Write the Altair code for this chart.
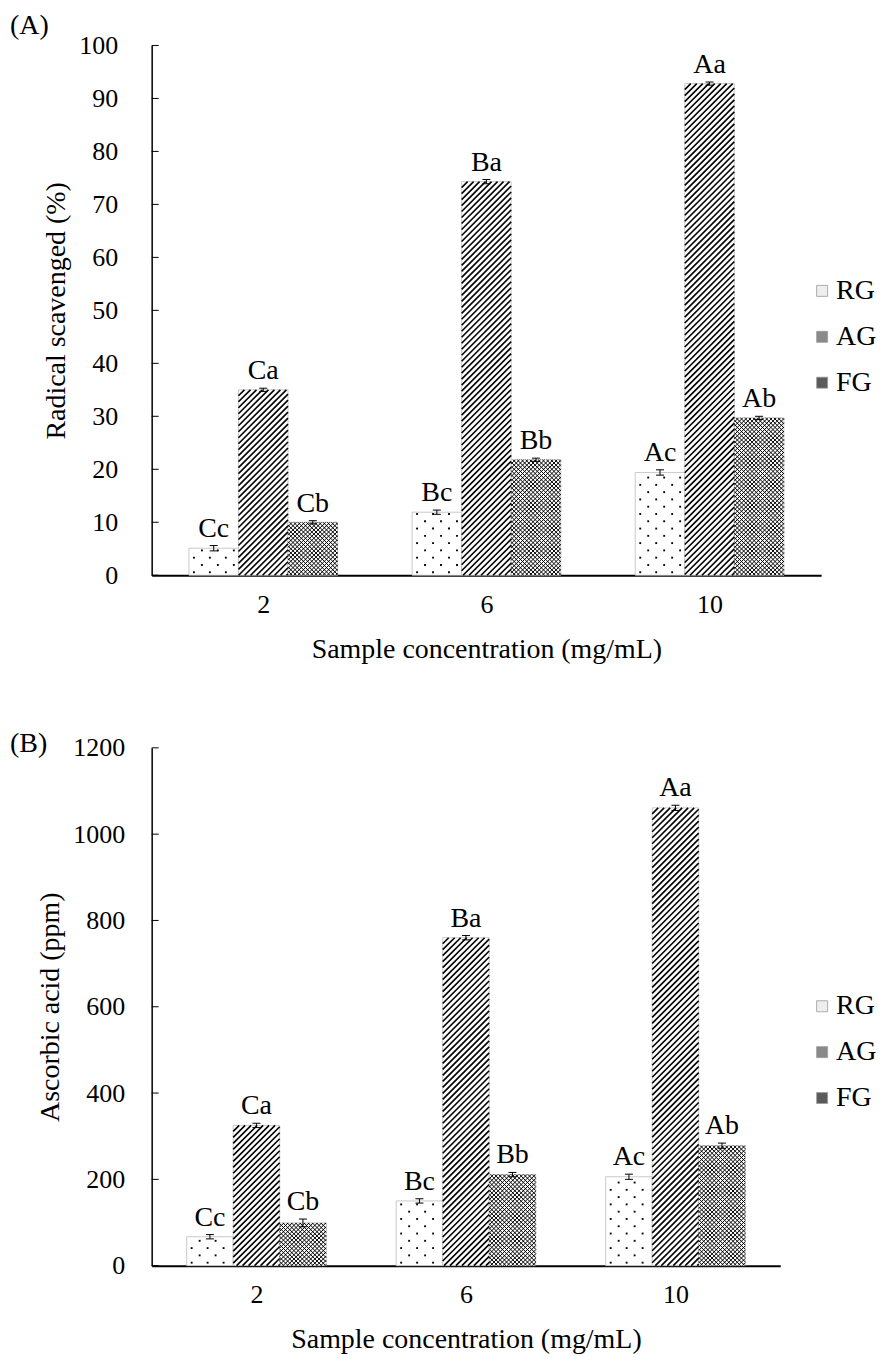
import altair as alt
import pandas as pd

FONT = "Liberation Serif"

conc = ["2", "6", "10"]
series = ["RG", "AG", "FG"]

letters_rg = ["Cc", "Bc", "Ac"]
letters_ag = ["Ca", "Ba", "Aa"]
letters_fg = ["Cb", "Bb", "Ab"]

# Panel A: Radical scavenged (%)
a_rg = [5.1, 11.9, 19.4]
a_ag = [35.0, 74.3, 92.8]
a_fg = [10.0, 21.8, 29.7]
a_rg_err = [0.5, 0.4, 0.5]
a_ag_err = [0.3, 0.4, 0.3]
a_fg_err = [0.3, 0.3, 0.3]
a_ticks = [0, 10, 20, 30, 40, 50, 60, 70, 80, 90, 100]

# Panel B: Ascorbic acid (ppm)
b_rg = [67, 150, 206]
b_ag = [325, 760, 1061]
b_fg = [99, 211, 278]
b_rg_err = [5, 5, 6]
b_ag_err = [5, 5, 6]
b_fg_err = [9, 5, 6]
b_ticks = [0, 200, 400, 600, 800, 1000, 1200]


def table(rg, ag, fg, erg, eag, efg):
    rows = []
    for si, (s, vals, errs, labs) in enumerate(
        zip(series, [rg, ag, fg], [erg, eag, efg], [letters_rg, letters_ag, letters_fg])
    ):
        for ci in range(len(conc)):
            rows.append(dict(ci=ci, si=si, series=s, value=vals[ci], err=errs[ci], letter=labs[ci]))
    return pd.DataFrame(rows)


BW = 0.222  # bar width as a fraction of one category step


def panel(df, ticks, W, H, ymax, ytitle, tag, tag_y, legend_y, label_pad):
    ux = W / 3.0
    uy = H / ymax
    xs = alt.Scale(domain=[0, 3], nice=False, zero=False)
    ys = alt.Scale(domain=[0, ymax], nice=False, zero=True)
    lab_expr = "[" + ",".join("'%s'" % c for c in conc) + "][floor(datum.value)]"

    xaxis = alt.Axis(
        values=[0.5, 1.5, 2.5],
        labelExpr=lab_expr,
        title="Sample concentration (mg/mL)",
        grid=False,
        ticks=False,
        domainColor="black",
        domainWidth=2,
        labelFontSize=26,
        titleFontSize=28,
        labelPadding=16,
        titlePadding=18,
    )
    yaxis = alt.Axis(
        values=ticks,
        format="d",
        title=ytitle,
        grid=False,
        ticks=False,
        domainColor="black",
        domainWidth=1.5,
        labelFontSize=26,
        titleFontSize=28,
        labelPadding=label_pad,
        titlePadding=8,
    )

    base = alt.Chart(df).transform_calculate(
        xl=f"datum.ci + 0.5 + (datum.si - 1.5) * {BW}",
        xr=f"datum.ci + 0.5 + (datum.si - 0.5) * {BW}",
        xc=f"datum.ci + 0.5 + (datum.si - 1) * {BW}",
        hp=f"datum.value * {uy}",
        wp=f"{BW * ux}",
        lo="datum.value - datum.err",
        hi="datum.value + datum.err",
        capl=f"datum.ci + 0.5 + (datum.si - 1) * {BW} - {4.0 / ux}",
        capr=f"datum.ci + 0.5 + (datum.si - 1) * {BW} + {4.0 / ux}",
    )

    def X(f):
        return alt.X(f, scale=xs, axis=xaxis)

    def Y(f):
        return alt.Y(f, scale=ys, axis=yaxis)

    bars = base.mark_rect(fill="white", stroke="#bdbdbd", strokeWidth=0.8).encode(
        x=X("xl:Q"), x2="xr:Q", y=Y("value:Q"), y2=alt.datum(0)
    )

    # AG: "/" diagonal hatch
    S = 6.0
    ag = (
        base.transform_filter("datum.si == 1")
        .transform_calculate(ks=f"sequence(0, ceil((datum.hp + datum.wp) / {S}) + 1)")
        .transform_flatten(["ks"], as_=["k"])
        .transform_calculate(c=f"-datum.hp + datum.k * {S}")
        .transform_calculate(sx="max(0, datum.c)", ex="min(datum.wp, datum.hp + datum.c)")
        .transform_filter("datum.ex > datum.sx")
        .transform_calculate(
            X1=f"datum.xl + datum.sx / {ux}",
            Y1=f"(datum.sx - datum.c) / {uy}",
            X2=f"datum.xl + datum.ex / {ux}",
            Y2=f"(datum.ex - datum.c) / {uy}",
        )
        .mark_rule(color="black", strokeWidth=1.6)
        .encode(x=X("X1:Q"), y=Y("Y1:Q"), x2="X2:Q", y2="Y2:Q")
    )

    # FG: cross hatch
    S2 = 4.2
    fg1 = (
        base.transform_filter("datum.si == 2")
        .transform_calculate(ks=f"sequence(0, ceil((datum.hp + datum.wp) / {S2}) + 1)")
        .transform_flatten(["ks"], as_=["k"])
        .transform_calculate(c=f"-datum.hp + datum.k * {S2}")
        .transform_calculate(sx="max(0, datum.c)", ex="min(datum.wp, datum.hp + datum.c)")
        .transform_filter("datum.ex > datum.sx")
        .transform_calculate(
            X1=f"datum.xl + datum.sx / {ux}",
            Y1=f"(datum.sx - datum.c) / {uy}",
            X2=f"datum.xl + datum.ex / {ux}",
            Y2=f"(datum.ex - datum.c) / {uy}",
        )
        .mark_rule(color="black", strokeWidth=1.0)
        .encode(x=X("X1:Q"), y=Y("Y1:Q"), x2="X2:Q", y2="Y2:Q")
    )
    fg2 = (
        base.transform_filter("datum.si == 2")
        .transform_calculate(ks=f"sequence(0, ceil((datum.hp + datum.wp) / {S2}) + 1)")
        .transform_flatten(["ks"], as_=["k"])
        .transform_calculate(c=f"datum.k * {S2}")
        .transform_calculate(sx="max(0, datum.c - datum.hp)", ex="min(datum.wp, datum.c)")
        .transform_filter("datum.ex > datum.sx")
        .transform_calculate(
            X1=f"datum.xl + datum.sx / {ux}",
            Y1=f"(datum.c - datum.sx) / {uy}",
            X2=f"datum.xl + datum.ex / {ux}",
            Y2=f"(datum.c - datum.ex) / {uy}",
        )
        .mark_rule(color="black", strokeWidth=1.0)
        .encode(x=X("X1:Q"), y=Y("Y1:Q"), x2="X2:Q", y2="Y2:Q")
    )

    # RG: sparse staggered dots
    DX, DYY = 16.0, 7.3
    rg = (
        base.transform_filter("datum.si == 0")
        .transform_calculate(rs=f"sequence(0, floor((datum.hp - 2) / {DYY}) + 1)")
        .transform_flatten(["rs"], as_=["r"])
        .transform_calculate(cs="sequence(0, 4)")
        .transform_flatten(["cs"], as_=["c"])
        .transform_calculate(
            px=f"5 + datum.c * {DX} + (datum.r % 2) * {DX / 2}",
            py=f"3 + datum.r * {DYY}",
        )
        .transform_filter("datum.px < datum.wp - 2 && datum.py < datum.hp - 1")
        .transform_calculate(X=f"datum.xl + datum.px / {ux}", Yv=f"datum.py / {uy}")
        .mark_square(size=3.5, color="black", opacity=1)
        .encode(x=X("X:Q"), y=Y("Yv:Q"))
    )

    ev = base.mark_rule(color="black", strokeWidth=1).encode(x=X("xc:Q"), y=Y("lo:Q"), y2="hi:Q")
    ct = base.mark_rule(color="black", strokeWidth=1).encode(x=X("capl:Q"), x2="capr:Q", y=Y("hi:Q"))
    cb = base.mark_rule(color="black", strokeWidth=1).encode(x=X("capl:Q"), x2="capr:Q", y=Y("lo:Q"))

    txt = base.mark_text(font=FONT, fontSize=28, baseline="alphabetic", dy=-9, color="black").encode(
        x=X("xc:Q"), y=Y("hi:Q"), text="letter:N"
    )

    tk = (
        alt.Chart(pd.DataFrame({"t": ticks}))
        .mark_rule(color="black", strokeWidth=1)
        .encode(y=Y("t:Q"), x=alt.value(0), x2=alt.value(7))
    )

    tag_mark = (
        alt.Chart(pd.DataFrame({"tag": [tag]}))
        .mark_text(font=FONT, fontSize=28, align="left", baseline="middle", color="black")
        .encode(x=alt.value(-142), y=alt.value(tag_y), text="tag:N")
    )

    leg = base.mark_square(opacity=0).encode(
        x=X("xc:Q"),
        y=Y("value:Q"),
        fill=alt.Fill(
            "series:N",
            scale=alt.Scale(domain=series, range=["#eeeeee", "#8a8a8a", "#5a5a5a"]),
            legend=alt.Legend(
                title=None,
                orient="none",
                legendX=653,
                legendY=legend_y,
                symbolType="square",
                symbolSize=121,
                symbolOpacity=1,
                symbolOffset=5,
                symbolStrokeColor="#9a9a9a",
                symbolStrokeWidth=0.8,
                labelFont=FONT,
                labelFontSize=28,
                labelColor="black",
                rowPadding=18,
                labelOffset=0,
                padding=0,
            ),
        ),
    )

    return alt.layer(bars, ag, fg1, fg2, rg, ev, ct, cb, txt, tk, tag_mark, leg).properties(
        width=W, height=H
    )


dfa = table(a_rg, a_ag, a_fg, a_rg_err, a_ag_err, a_fg_err)
dfb = table(b_rg, b_ag, b_fg, b_rg_err, b_ag_err, b_fg_err)

pa = panel(dfa, a_ticks, 671, 531, 100, "Radical scavenged (%)", "(A)", -19, 232, 34)
pb = panel(dfb, b_ticks, 630, 519, 1200, "Ascorbic acid (ppm)", "(B)", -4, 245, 27)

chart = (
    alt.vconcat(pa, pb, spacing=67)
    .resolve_scale(fill="independent", x="independent", y="independent")
    .resolve_legend(fill="independent")
    .properties(padding={"left": 2, "top": 3, "right": 0, "bottom": 0})
    .configure_view(stroke=None)
    .configure_axis(
        labelFont=FONT,
        titleFont=FONT,
        labelColor="black",
        titleColor="black",
        titleFontWeight="normal",
    )
    .configure_text(font=FONT)
)

chart.save("out.html", embed_options={"renderer": "svg", "actions": False})
